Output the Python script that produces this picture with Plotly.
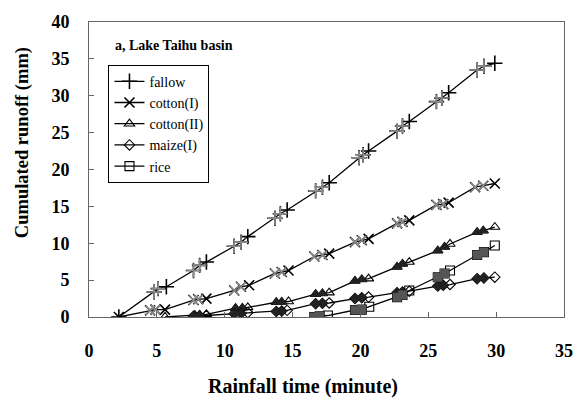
import plotly.graph_objects as go

# Cumulated runoff (mm) against rainfall time (minute), Lake Taihu basin plots
fallow_t = [2.2, 4.8, 5.1, 5.7, 7.7, 8.15, 8.65, 10.7, 11.2, 11.7, 13.7, 14.1, 14.6,
            16.7, 17.2, 17.7, 19.9, 20.2, 20.6, 22.7, 23.1, 23.6, 25.6, 26.0, 26.5,
            28.6, 29.1, 29.9]
fallow_q = [0, 3.4, 3.85, 4.1, 6.3, 7.0, 7.45, 9.6, 10.15, 10.9, 13.4, 14.0, 14.5,
            17.1, 17.6, 18.2, 21.6, 22.0, 22.5, 25.2, 25.9, 26.5, 29.2, 29.7, 30.4,
            33.5, 34.0, 34.4]

cotton1_t = [2.2, 4.5, 4.9, 5.6, 7.7, 8.05, 8.65, 10.7, 11.2, 11.8, 13.7, 14.2, 14.7,
             16.6, 17.2, 17.7, 19.6, 20.1, 20.6, 22.7, 23.1, 23.6, 25.6, 26.1, 26.5,
             28.45, 29.05, 29.9]
cotton1_q = [0, 0.9, 1.0, 1.0, 2.3, 2.4, 2.5, 3.6, 4.1, 4.3, 5.9, 6.1, 6.3,
             8.2, 8.4, 8.6, 10.15, 10.4, 10.6, 12.7, 12.9, 13.1, 15.2, 15.3, 15.5,
             17.6, 17.8, 18.1]

cotton2_t = [5.6, 7.8, 8.15, 8.65, 10.8, 11.3, 11.7, 13.8, 14.2, 14.7, 16.7, 17.2, 17.7,
             19.6, 20.1, 20.6, 22.7, 23.1, 23.6, 25.7, 26.2, 26.6, 28.6, 29.05, 29.9]
cotton2_q = [0, 0.25, 0.3, 0.35, 1.2, 1.25, 1.3, 2.0, 2.05, 2.1, 3.1, 3.2, 3.3,
             4.9, 5.1, 5.2, 6.8, 7.2, 7.45, 9.0, 9.5, 9.9, 11.5, 11.7, 12.2]

maize_t = [7.7, 8.15, 8.65, 10.7, 11.2, 11.7, 13.8, 14.2, 14.6, 16.7, 17.2, 17.7,
           19.6, 20.1, 20.6, 22.7, 23.1, 23.6, 25.7, 26.1, 26.6, 28.6, 29.1, 29.9]
maize_q = [0.1, 0.15, 0.2, 0.45, 0.5, 0.6, 0.75, 0.8, 0.9, 1.8, 1.85, 1.9,
           2.5, 2.6, 2.7, 3.3, 3.4, 3.5, 4.2, 4.3, 4.4, 5.2, 5.3, 5.4]

rice_t = [16.6, 17.0, 17.6, 19.6, 20.1, 20.65, 22.7, 23.1, 23.6, 25.7, 26.2, 26.6,
          28.6, 29.1, 29.9]
rice_q = [0.0, 0.1, 0.2, 0.95, 1.0, 1.4, 2.7, 3.0, 3.6, 5.4, 5.9, 6.3, 8.4, 8.8, 9.7]

series_names = ["fallow", "cotton(I)", "cotton(II)", "maize(I)", "rice"]

x_ticks = [0, 5, 10, 15, 20, 25, 30, 35]
y_ticks = [0, 5, 10, 15, 20, 25, 30, 35, 40]

SERIF = "Liberation Serif, Times New Roman, serif"


def lead_flags(t):
    """True for readings that are followed closely by another reading."""
    return [i + 1 < len(t) and t[i + 1] - t[i] < 1.5 for i in range(len(t))]


def add_series(fig, name, t, q, symbol, lead_symbol, lead_color, size, lw):
    # main line with the open marker used in the legend
    fig.add_trace(go.Scatter(
        x=t, y=q, name=name, mode="lines+markers", legendgroup=name,
        line=dict(color="black", width=1.3),
        marker=dict(symbol=symbol, size=size, color="black",
                    line=dict(color="black", width=lw)),
    ))
    # closely spaced earlier readings of each group, drawn darker / fainter
    lead = lead_flags(t)
    lt = [x for x, f in zip(t, lead) if f]
    lq = [y for y, f in zip(q, lead) if f]
    fig.add_trace(go.Scatter(
        x=lt, y=lq, mode="markers", legendgroup=name, showlegend=False,
        marker=dict(symbol=lead_symbol, size=size - 1, color=lead_color,
                    line=dict(color=lead_color, width=lw)),
    ))


fig = go.Figure()
add_series(fig, series_names[0], fallow_t, fallow_q, "cross-thin", "cross-thin", "#8a8a8a", 11, 1.6)
add_series(fig, series_names[1], cotton1_t, cotton1_q, "x-thin", "x-thin", "#8a8a8a", 10, 1.6)
add_series(fig, series_names[2], cotton2_t, cotton2_q, "triangle-up-open", "triangle-up", "#222", 9, 1.1)
add_series(fig, series_names[3], maize_t, maize_q, "diamond-open", "diamond", "#222", 8, 1.1)
add_series(fig, series_names[4], rice_t, rice_q, "square-open", "square", "#555", 9, 1.1)

axis_common = dict(
    showline=True, linecolor="#666", linewidth=1, mirror=True,
    ticks="inside", ticklen=5, tickcolor="#666", showgrid=False, zeroline=False,
    tickfont=dict(family=SERIF, size=18, color="black"),
)

fig.update_layout(
    width=585, height=401,
    margin=dict(l=89, r=14, t=20, b=84),
    paper_bgcolor="white", plot_bgcolor="white",
    font=dict(family=SERIF, color="black"),
    showlegend=True,
    legend=dict(
        x=0.041, y=(317 - 63) / 297, xanchor="left", yanchor="top",
        bordercolor="black", borderwidth=1, bgcolor="white",
        font=dict(family=SERIF, size=14, color="black"),
        traceorder="grouped", tracegroupgap=0, itemwidth=30,
    ),
    xaxis=dict(range=[0, 35], tickvals=x_ticks,
               ticktext=[f"<b>{v}</b>" for v in x_ticks],
               ticklabelstandoff=17, **axis_common),
    yaxis=dict(range=[0, 40], tickvals=y_ticks,
               ticktext=[f"<b>{v}</b>" for v in y_ticks],
               ticklabelstandoff=15, **axis_common),
    annotations=[
        dict(text="<b>a, Lake Taihu basin</b>", xref="paper", yref="paper",
             x=0.05, y=(317 - 44) / 297, xanchor="left", yanchor="middle", showarrow=False,
             font=dict(family=SERIF, size=14, color="black")),
        dict(text="<b>Rainfall time (minute)</b>", xref="paper", yref="paper",
             x=(306 - 89) / 482, y=-(387 - 317) / 297, xanchor="center", yanchor="middle",
             showarrow=False, font=dict(family=SERIF, size=20, color="black")),
        dict(text="<b>Cumulated runoff (mm)</b>", xref="paper", yref="paper",
             x=-(89 - 21) / 482, y=(317 - 141) / 297, xanchor="center", yanchor="middle",
             textangle=-90, showarrow=False, font=dict(family=SERIF, size=18.5, color="black")),
    ],
)

fig.write_html("out.html")
